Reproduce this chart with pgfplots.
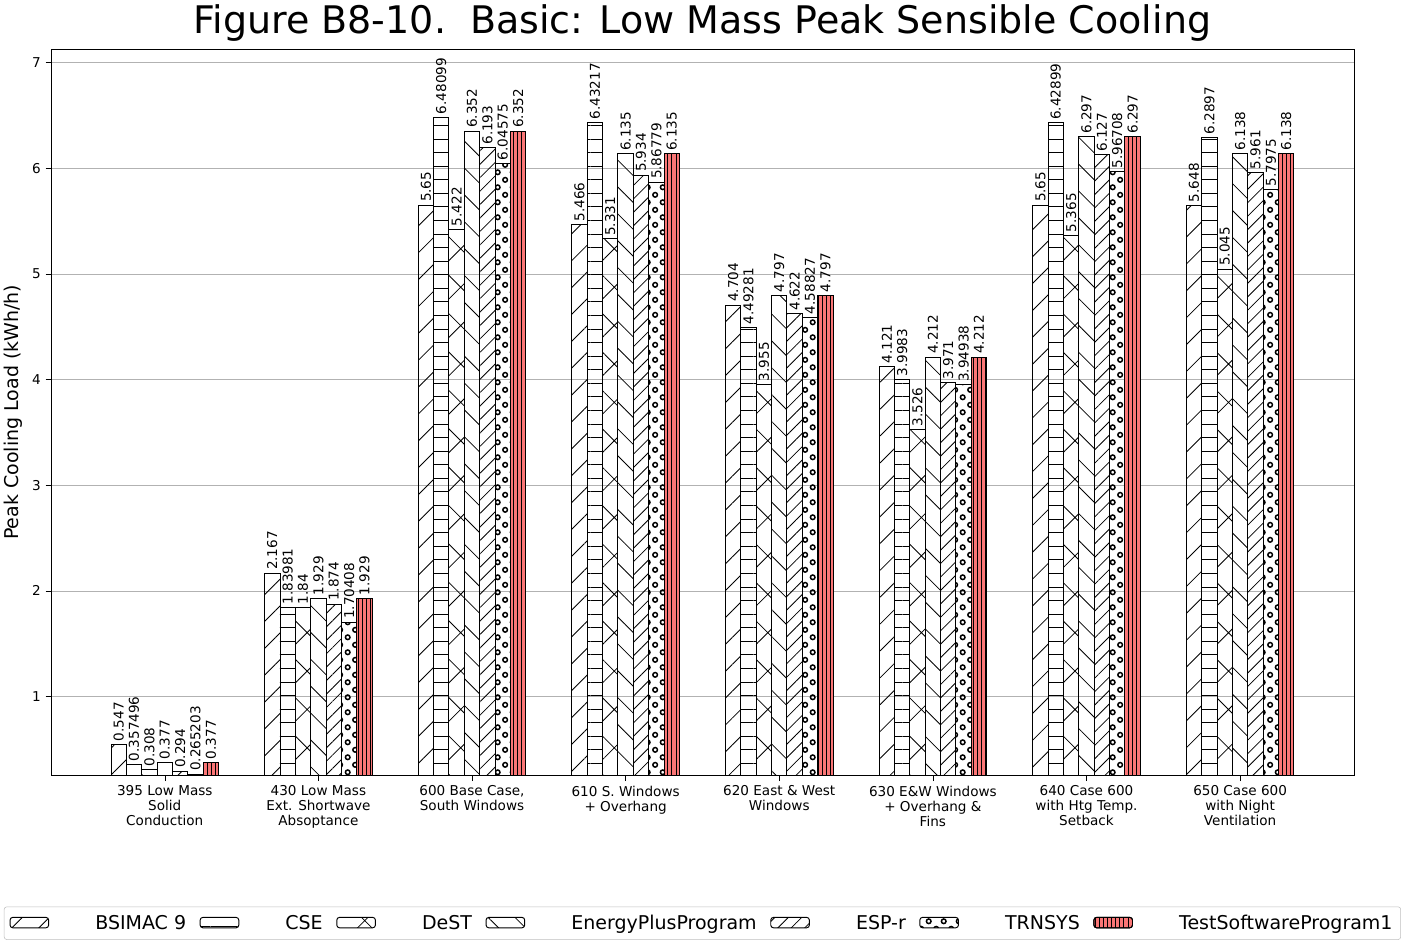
\documentclass[border=0pt]{standalone}
\usepackage{pgfplots}
\pgfplotsset{compat=1.18}
\usepackage{pgfplotstable}
\usetikzlibrary{patterns.meta}
\usepackage{fontspec}
\setmainfont{DejaVu Sans}
\definecolor{tsp}{RGB}{250,118,118}
\tikzdeclarepattern{name=rings, type=uncolored, bottom left={(0pt,0pt)}, top right={(11pt,11pt)}, tile size={(11pt,11pt)},
  code={\draw[line width=1.1pt] (2.75pt,2.75pt) circle (1.7pt); \draw[line width=1.1pt] (8.25pt,8.25pt) circle (1.7pt);}}
\pgfplotstableread{
x y
0 0.547
1 2.167
2 5.65
3 5.466
4 4.704
5 4.121
6 5.65
7 5.648
}\tA
\pgfplotstableread{
x y
0 0.357496
1 1.83981
2 6.48099
3 6.43217
4 4.49281
5 3.9983
6 6.42899
7 6.2897
}\tB
\pgfplotstableread{
x y
0 0.308
1 1.84
2 5.422
3 5.331
4 3.955
5 3.526
6 5.365
7 5.045
}\tC
\pgfplotstableread{
x y
0 0.377
1 1.929
2 6.352
3 6.135
4 4.797
5 4.212
6 6.297
7 6.138
}\tD
\pgfplotstableread{
x y
0 0.294
1 1.874
2 6.193
3 5.934
4 4.622
5 3.971
6 6.127
7 5.961
}\tE
\pgfplotstableread{
x y
0 0.265203
1 1.70408
2 6.04575
3 5.86779
4 4.58827
5 3.94938
6 5.96708
7 5.7975
}\tF
\pgfplotstableread{
x y
0 0.377
1 1.929
2 6.352
3 6.135
4 4.797
5 4.212
6 6.297
7 6.138
}\tG
\begin{document}
\begin{tikzpicture}
\begin{axis}[
  scale only axis, width=13.28in, height=7.41in,
  xmin=-0.74, xmax=7.74, ymin=0.25, ymax=7.13,
  ytick={1,2,3,4,5,6,7}, ymajorgrids, grid style={gray!60},
  xtick={0,...,7}, xtick pos=bottom, ytick pos=left,
  xticklabels={{395 Low Mass\\Solid\\Conduction},{430 Low Mass\\Ext. Shortwave\\Absoptance},{600 Base Case,\\South Windows},{610 S. Windows\\+ Overhang},{620 East \& West\\Windows},{630 E\&W Windows\\+ Overhang \&\\Fins},{640 Case 600\\with Htg Temp.\\Setback},{650 Case 600\\with Night\\Ventilation}},
  xticklabel style={align=center,font=\fontsize{10}{11}\selectfont},
  yticklabel style={font=\fontsize{10}{11}\selectfont},
  /pgf/number format/assume math mode=true,
  tick align=outside, major tick length=4pt, tick style={black},
  ylabel={Peak Cooling Load (kWh/h)}, ylabel style={font=\fontsize{14}{16}\selectfont},
  title={Figure B8-10.\ \ Basic: Low Mass Peak Sensible Cooling},
  title style={font=\fontsize{28}{32}\selectfont, yshift=-4pt},
  ybar, bar width=0.1,
  point meta=explicit symbolic,
  nodes near coords,
  nodes near coords style={rotate=90, anchor=west, font=\fontsize{10}{11}\selectfont, inner sep=2pt},
  every axis plot/.append style={draw=black, line width=0.7pt},
  area legend,
  legend columns=7,
  legend style={at={(0.5,-0.18)}, anchor=north, font=\fontsize{14}{16}\selectfont, draw=gray!50, rounded corners=2pt, inner sep=4pt,
    /tikz/every even column/.append style={column sep=8pt},
    /tikz/every odd column/.append style={column sep=32pt}},
  legend image code/.code={\draw[#1] (0cm,-0.12cm) rectangle (1.0cm,0.15cm);},
]
\addplot[bar shift=-0.3, pattern={Lines[angle=45,distance=14pt,line width=0.6pt]}] table[x=x,y=y,meta=y]{\tA};
\addplot[bar shift=-0.2, pattern={Lines[angle=0,distance=10pt,line width=0.6pt]}] table[x=x,y=y,meta=y]{\tB};
\addplot[bar shift=-0.1, pattern={Hatch[angle=45,distance=20pt,line width=0.6pt]}] table[x=x,y=y,meta=y]{\tC};
\addplot[bar shift=0, pattern={Lines[angle=-45,distance=14pt,line width=0.6pt]}] table[x=x,y=y,meta=y]{\tD};
\addplot[bar shift=0.1, pattern={Lines[angle=45,distance=7pt,line width=0.6pt]}] table[x=x,y=y,meta=y]{\tE};
\addplot[bar shift=0.2, pattern=rings] table[x=x,y=y,meta=y]{\tF};
\addplot[bar shift=0.3, fill=tsp, postaction={pattern={Lines[angle=90,distance=3pt,line width=0.6pt]}}] table[x=x,y=y,meta=y]{\tG};
\legend{BSIMAC 9,CSE,DeST,EnergyPlusProgram,ESP-r,TRNSYS,TestSoftwareProgram1}
\end{axis}
\end{tikzpicture}
\end{document}
